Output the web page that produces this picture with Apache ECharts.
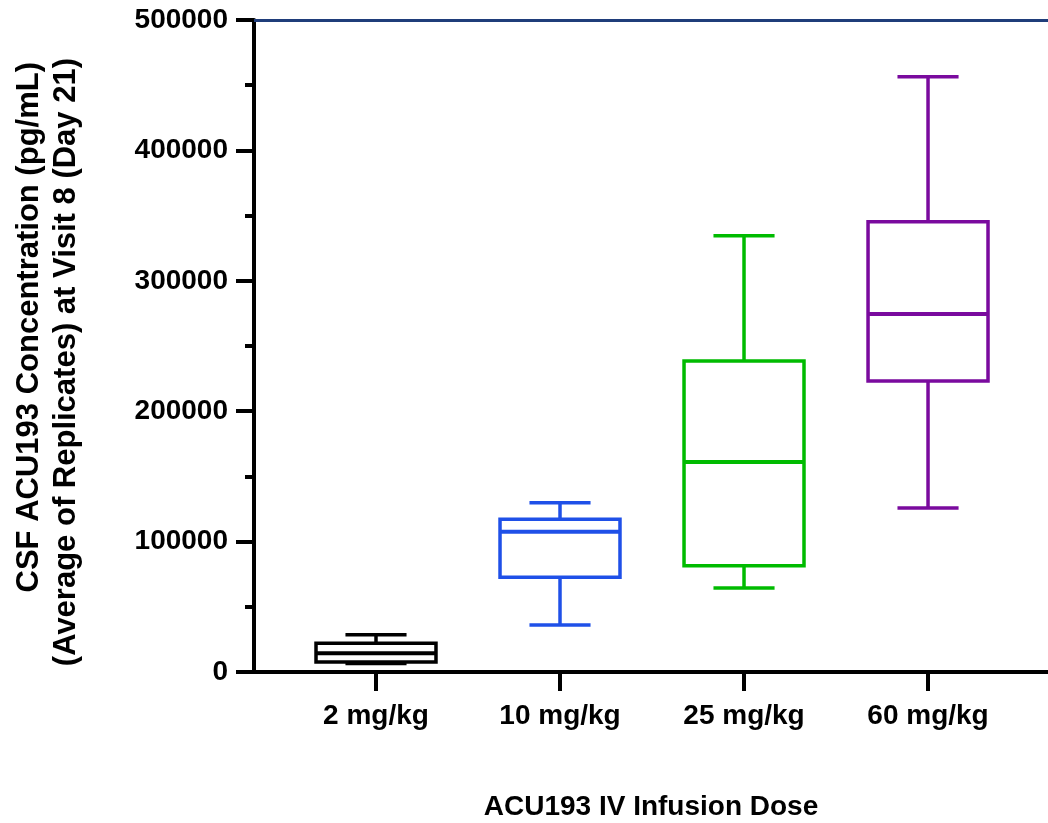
<!DOCTYPE html>
<html>
<head>
<meta charset="utf-8">
<script src="https://cdn.jsdelivr.net/npm/echarts@6/dist/echarts.min.js"></script>
<style>
html, body { margin: 0; padding: 0; background: #fff; }
#chart { width: 1048px; height: 823px; }
</style>
</head>
<body>
<div id="chart"></div>
<script>
// dose groups on the x axis
const doses = ["2 mg/kg", "10 mg/kg", "25 mg/kg", "60 mg/kg"];
// box stats (pg/mL)
const mins    = [6500, 36000, 64400, 125800];
const q1s     = [7700, 72600, 81500, 223200];
const medians = [14300, 107600, 161000, 274500];
const q3s     = [22000, 117100, 238500, 345300];
const maxs    = [28600, 129800, 334600, 456500];
// y tick labels
const yTicks = [0, 100000, 200000, 300000, 400000, 500000];
const yTitle = ["CSF ACU193 Concentration (pg/mL)", "(Average of Replicates) at Visit 8 (Day 21)"];

const colors = ["#000000", "#1f50e8", "#00bb00", "#7a0a9e"];
const FONT = "'Liberation Sans', Arial, sans-serif";

const boxData = doses.map((d, i) => [i, mins[i], q1s[i], medians[i], q3s[i], maxs[i]]);

function renderBox(params, api) {
  const i = api.value(0);
  const c = colors[params.dataIndex];
  const band = api.size([1, 0])[0];
  const half = band * 0.326; // box half width
  const cap = band * 0.166;  // whisker cap half width
  const x = api.coord([i, 0])[0];
  const y = k => api.coord([i, api.value(k)])[1];
  const yMin = y(1), yQ1 = y(2), yMed = y(3), yQ3 = y(4), yMax = y(5);
  const st = { stroke: c, lineWidth: 3.5, fill: null };
  return {
    type: "group",
    children: [
      { type: "line", shape: { x1: x, y1: yMax, x2: x, y2: yQ3 }, style: st },
      { type: "line", shape: { x1: x, y1: yQ1, x2: x, y2: yMin }, style: st },
      { type: "line", shape: { x1: x - cap, y1: yMax, x2: x + cap, y2: yMax }, style: st },
      { type: "line", shape: { x1: x - cap, y1: yMin, x2: x + cap, y2: yMin }, style: st },
      { type: "rect", shape: { x: x - half, y: yQ3, width: half * 2, height: yQ1 - yQ3 },
        style: { stroke: c, lineWidth: 3.5, fill: "#fff" } },
      { type: "line", shape: { x1: x - half, y1: yMed, x2: x + half, y2: yMed },
        style: { stroke: c, lineWidth: 4, fill: null } }
    ]
  };
}

const titleStyle = { fontSize: 31, fontWeight: "bold", fill: "#000", fontFamily: FONT, align: "right", verticalAlign: "middle" };

const chart = echarts.init(document.getElementById("chart"));
chart.setOption({
  animation: false,
  backgroundColor: "#fff",
  textStyle: { fontFamily: FONT },
  grid: { left: 254, right: 0, top: 20, bottom: 151, outerBoundsMode: "none", containLabel: false },
  xAxis: [
    {
      type: "value",
      min: -0.663,
      max: 3.652,
      position: "bottom",
      axisLine: { show: true, onZero: false, lineStyle: { color: "#000", width: 4 } },
      axisTick: { show: true, customValues: [0, 1, 2, 3], length: 19, lineStyle: { color: "#000", width: 4 } },
      axisLabel: {
        customValues: [0, 1, 2, 3],
        formatter: v => doses[Math.round(v)],
        fontSize: 28, fontWeight: "bold", color: "#000", fontFamily: FONT, margin: 30
      },
      splitLine: { show: false },
      name: "ACU193 IV Infusion Dose",
      nameLocation: "middle",
      nameGap: 121,
      nameTextStyle: { fontSize: 28, fontWeight: "bold", color: "#000", fontFamily: FONT }
    },
    {
      type: "value",
      min: -0.663,
      max: 3.652,
      position: "top",
      axisLine: { show: true, onZero: false, lineStyle: { color: "#1f3d7a", width: 3 } },
      axisTick: { show: false },
      axisLabel: { show: false },
      splitLine: { show: false }
    }
  ],
  yAxis: {
    type: "value",
    min: 0,
    max: 500000,
    interval: 100000,
    axisLine: { show: true, onZero: false, lineStyle: { color: "#000", width: 4 } },
    axisTick: { show: true, length: 18, lineStyle: { color: "#000", width: 4 } },
    minorTick: { show: true, splitNumber: 2, length: 9, lineStyle: { color: "#000", width: 4 } },
    axisLabel: {
      formatter: v => (yTicks.indexOf(v) >= 0 ? String(v) : ""),
      fontSize: 28, fontWeight: "bold", color: "#000", fontFamily: FONT, margin: 26
    },
    splitLine: { show: false }
  },
  graphic: [
    { type: "text", x: 29, y: 62, rotation: Math.PI / 2, style: Object.assign({ text: yTitle[0] }, titleStyle) },
    { type: "text", x: 66, y: 58, rotation: Math.PI / 2, style: Object.assign({ text: yTitle[1] }, titleStyle) }
  ],
  series: [
    {
      type: "custom",
      xAxisIndex: 0,
      yAxisIndex: 0,
      data: boxData,
      encode: { x: 0, y: [1, 2, 3, 4, 5] },
      renderItem: renderBox
    }
  ]
});
</script>
</body>
</html>
